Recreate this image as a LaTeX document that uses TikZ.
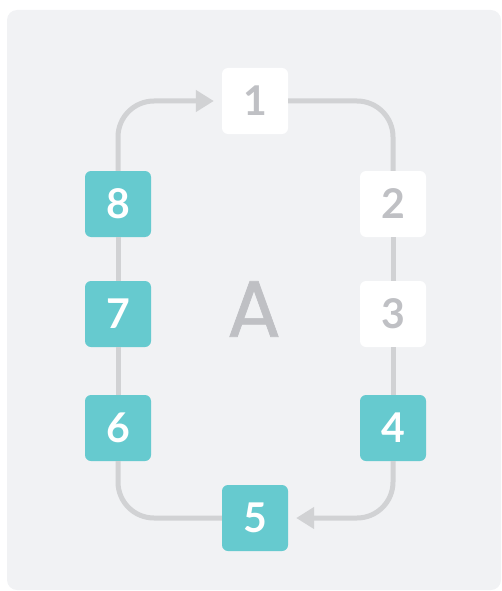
\documentclass[tikz,border=0pt]{standalone}
\usepackage{fontspec}
\setmainfont{Lato}
\newfontfamily\bigA[FakeBold=0.8]{Poppins}
\usetikzlibrary{arrows.meta}
\definecolor{bgc}{HTML}{F1F2F4}
\definecolor{teal}{HTML}{66CACF}
\definecolor{linec}{HTML}{D1D2D4}
\definecolor{txtg}{HTML}{BFC0C4}
\tikzset{
  box/.style={rounded corners=6pt, minimum width=66pt, minimum height=66pt, inner sep=0pt, font=\fontsize{41}{41}\selectfont\bfseries},
  wbox/.style={box, fill=white, text=txtg},
  tbox/.style={box, fill=teal, text=white},
  conn/.style={draw=linec, line width=5pt, rounded corners=36pt},
  arr/.style={conn, -{Triangle[length=18pt,width=21pt]}, shorten >=8pt}
}
\begin{document}
\begin{tikzpicture}[x=1pt,y=-1pt]
\useasboundingbox (0,0) rectangle (501,591);
\fill[bgc, rounded corners=10pt] (7,10) rectangle (501,590);
\node[wbox] (b1) at (255,101) {1};
\node[wbox] (b2) at (393,204) {2};
\node[wbox] (b3) at (393,314) {3};
\node[tbox] (b4) at (393,428) {4};
\node[tbox] (b5) at (255,518) {5};
\node[tbox] (b6) at (118,428) {6};
\node[tbox] (b7) at (118,314) {7};
\node[tbox] (b8) at (118,204) {8};
\node[text=txtg, font=\bigA\fontsize{80}{80}\selectfont] (A) at (254,309) {A};
\path[arr] (b8.north) |- (b1.west);
\path[conn] (b1.east) -| (b2.north);
\path[conn] (b2.south) -- (b3.north);
\path[conn] (b3.south) -- (b4.north);
\path[arr] (b4.south) |- (b5.east);
\path[conn] (b5.west) -| (b6.south);
\path[conn] (b6.north) -- (b7.south);
\path[conn] (b7.north) -- (b8.south);
\end{tikzpicture}
\end{document}
